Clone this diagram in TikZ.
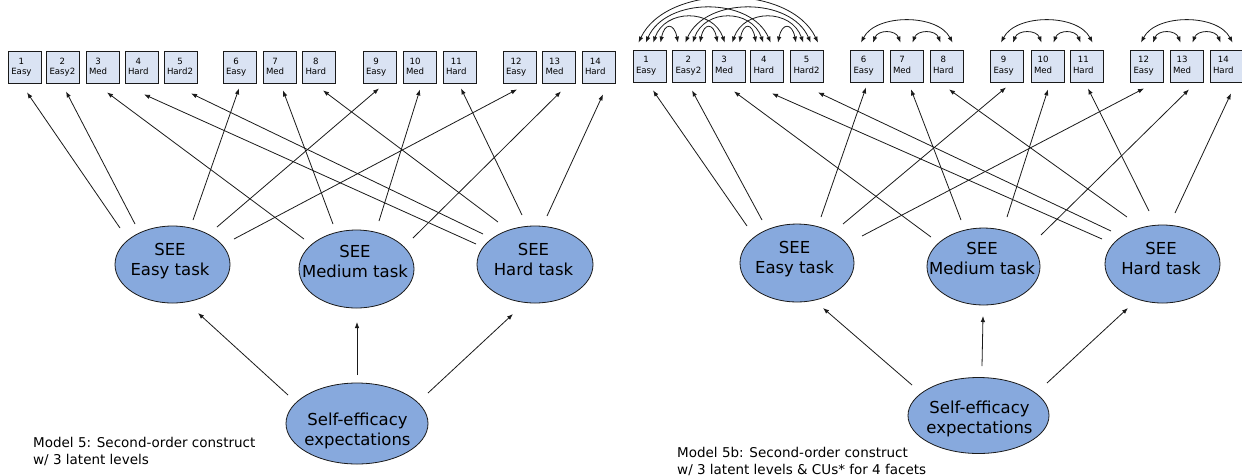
\documentclass[tikz,border=0pt]{standalone}
\usepackage{fontspec}
\setmainfont{DejaVu Sans}
\usetikzlibrary{arrows.meta,shapes.geometric}
\definecolor{itemfill}{HTML}{DAE3F3}
\definecolor{latentfill}{HTML}{87A9DD}
\definecolor{edge}{HTML}{1A1A1A}
% two centred lines with fixed baseline distance
\newcommand\twolines[2]{\begin{tabular}{@{}c@{}}#1\\#2\end{tabular}}
% loading arrow: from node #1 (offset #2 from centre) to node #3 (offset #4 from south)
\newcommand\loading[4]{\draw[load] ([shift={(#2)}]#1.center) -- ([shift={(#4)}]#3.south);}
% correlation arc between the tops of two indicators
% #1/#2 node and x offset, #3/#4 node and x offset, #5 inward pull, #6 control height
\newcommand\corr[6]{\draw[cov] ([shift={(#2,-7)}]#1.north) .. controls +(#5,-#6) and +(-#5,-#6) .. ([shift={(#4,-7)}]#3.north);}
\begin{document}
\begin{tikzpicture}[x=1pt,y=-1pt,
  item/.style={draw=edge, fill=itemfill, line width=0.8, text width=27, align=left,
    inner xsep=3, inner ysep=0, minimum height=32, font=\fontsize{8.6}{10.5}\selectfont},
  latent/.style={ellipse, draw=edge, fill=latentfill, line width=0.8, inner sep=0},
  lattext/.style={inner sep=0, font=\fontsize{16.5}{20}\selectfont},
  note/.style={inner sep=0, anchor=north west, font=\fontsize{13.5}{17}\selectfont},
  load/.style={-{Latex[length=6,width=4.5]}, line width=0.8, draw=edge},
  cov/.style={{Latex[length=6,width=4.5]}-{Latex[length=6,width=4.5]}, line width=0.8, draw=edge}
]
\fill[white] (0,0) rectangle (1242,475);
\useasboundingbox (0,0) rectangle (1242,475);

% ---------------- Model 5 ----------------
\foreach \i/\x/\w in {1/24.8/Easy, 2/63/Easy2, 3/102.5/Med, 4/141.5/Hard, 5/180.5/Hard2,
    6/239.5/Easy, 7/279.5/Med, 8/319/Hard, 9/379.5/Easy, 10/419.5/Med, 11/459.5/Hard,
    12/519.5/Easy, 13/559/Med, 14/598.5/Hard}
  \node[item] (L\i) at (\x,67.5) {\twolines{\i}{\w}};

\node[latent, minimum width=115, minimum height=77] (LE) at (172.5,264.5) {};
\node[latent, minimum width=115, minimum height=78] (LM) at (356.5,269) {};
\node[latent, minimum width=116, minimum height=77] (LH) at (535,264.5) {};
\node[latent, minimum width=142, minimum height=81] (LS) at (357,423.5) {};
\node[lattext] (LEt) at (170,261) {\twolines{SEE}{Easy task}};
\node[lattext] (LMt) at (355,263) {\twolines{SEE}{Medium task}};
\node[lattext] (LHt) at (533.5,261) {\twolines{SEE}{Hard task}};
\node[lattext] (LSt) at (357.5,431) {\twolines{Self-efficacy}{expectations}};

\loading{LE}{-52.5,-36.5}{L1}{2.2,8.5}
\loading{LE}{-37.5,-40.5}{L2}{3,7.5}
\loading{LE}{20.5,-44.5}{L6}{-0.5,4.5}
\loading{LE}{44.5,-37.5}{L9}{-0.5,4.5}
\loading{LE}{61.5,-25.5}{L12}{-2.5,5.5}
\loading{LM}{-52.5,-30}{L3}{4.5,8.5}
\loading{LM}{-23.5,-45}{L7}{3.5,6.5}
\loading{LM}{22.5,-48}{L10}{0.5,5.5}
\loading{LM}{56.5,-31}{L13}{2,7.5}
\loading{LH}{-59,-20.5}{L4}{2.5,10.5}
\loading{LH}{-52,-30.5}{L5}{10.5,9.5}
\loading{LH}{-37,-42.5}{L8}{4,6.5}
\loading{LH}{-13,-49.5}{L11}{1.5,4.5}
\loading{LH}{12,-48.5}{L14}{4.5,10.5}

\draw[load] ([shift={(-69,-28.5)}]LS.center) -- ([shift={(25.5,48.5)}]LE.center);
\draw[load] ([shift={(0,-48.5)}]LS.center) -- ([shift={(0.5,53)}]LM.center);
\draw[load] ([shift={(71,-30.5)}]LS.center) -- ([shift={(-22,49.5)}]LH.center);

\node[note] (Lnote) at (33,435.1)
  {\begin{tabular}{@{}l@{}}Model 5: Second-order construct\\w/ 3 latent levels\end{tabular}};

% ---------------- Model 5b ----------------
\foreach \i/\x/\w in {1/649.5/Easy, 2/689/Easy2, 3/728.5/Med, 4/767/Hard, 5/807/Hard2,
    6/867/Easy, 7/906.5/Med, 8/946.5/Hard, 9/1007/Easy, 10/1047.5/Med, 11/1086.5/Hard,
    12/1147/Easy, 13/1186.5/Med, 14/1226.5/Hard}
  \node[item] (R\i) at (\x,66) {\twolines{\i}{\w}};

\node[latent, minimum width=114, minimum height=78] (RE) at (797,263) {};
\node[latent, minimum width=113, minimum height=77] (RM) at (983.5,266.5) {};
\node[latent, minimum width=115, minimum height=78] (RH) at (1162.5,264) {};
\node[latent, minimum width=141, minimum height=76] (RS) at (978.5,415.5) {};
\node[lattext] (REt) at (794.5,259.5) {\twolines{SEE}{Easy task}};
\node[lattext] (RMt) at (982,260.5) {\twolines{SEE}{Medium task}};
\node[lattext] (RHt) at (1161,260.5) {\twolines{SEE}{Hard task}};
\node[lattext] (RSt) at (979.5,419) {\twolines{Self-efficacy}{expectations}};

\loading{RE}{-50,-37}{R1}{3.5,8}
\loading{RE}{-35,-43}{R2}{3,8}
\loading{RE}{24,-46}{R6}{-1,5}
\loading{RE}{46,-39}{R9}{-1,5}
\loading{RE}{65,-27}{R12}{-3,6}
\loading{RM}{-52.5,-29.5}{R3}{5.5,9}
\loading{RM}{-22.5,-46.5}{R7}{4.5,7}
\loading{RM}{23.5,-49.5}{R10}{0.5,7}
\loading{RM}{57.5,-31.5}{R13}{2.5,7}
\loading{RH}{-60.5,-25}{R4}{5,11}
\loading{RH}{-51.5,-33}{R5}{11,10}
\loading{RH}{-35.5,-47}{R8}{2.5,7}
\loading{RH}{-13.5,-53}{R11}{1.5,6}
\loading{RH}{12.5,-51}{R14}{4.5,11}

\draw[load] ([shift={(-66.5,-30.5)}]RS.center) -- ([shift={(26,45)}]RE.center);
\draw[load] ([shift={(3.5,-49.5)}]RS.center) -- ([shift={(-0.5,49.5)}]RM.center);
\draw[load] ([shift={(68.5,-32.5)}]RS.center) -- ([shift={(-34.5,44)}]RH.center);

% correlated uniquenesses among the five indicators of the first facet
\corr{R1}{11}{R2}{-11}{4}{20}
\corr{R2}{11}{R3}{-11}{4}{20}
\corr{R3}{11}{R4}{-11}{4}{20}
\corr{R4}{11}{R5}{-11}{4}{20}
\corr{R1}{3.7}{R3}{-3.7}{12}{34}
\corr{R2}{3.7}{R4}{-3.7}{12}{34}
\corr{R3}{3.7}{R5}{-3.7}{12}{34}
\corr{R1}{-3.7}{R4}{3.7}{20}{46}
\corr{R2}{-3.7}{R5}{3.7}{20}{46}
\corr{R1}{-11}{R5}{11}{28}{59}
% and within each of the three remaining facets
\foreach \a/\b/\c in {6/7/8, 9/10/11, 12/13/14} {
  \corr{R\a}{6}{R\b}{-6}{5}{13}
  \corr{R\b}{6}{R\c}{-6}{5}{13}
  \corr{R\a}{-6}{R\c}{6}{15}{29}
}

\node[note] (Rnote) at (677,445)
  {\begin{tabular}{@{}l@{}}Model 5b: Second-order construct\\w/ 3 latent levels \& CUs* for 4 facets\end{tabular}};
\end{tikzpicture}
\end{document}
